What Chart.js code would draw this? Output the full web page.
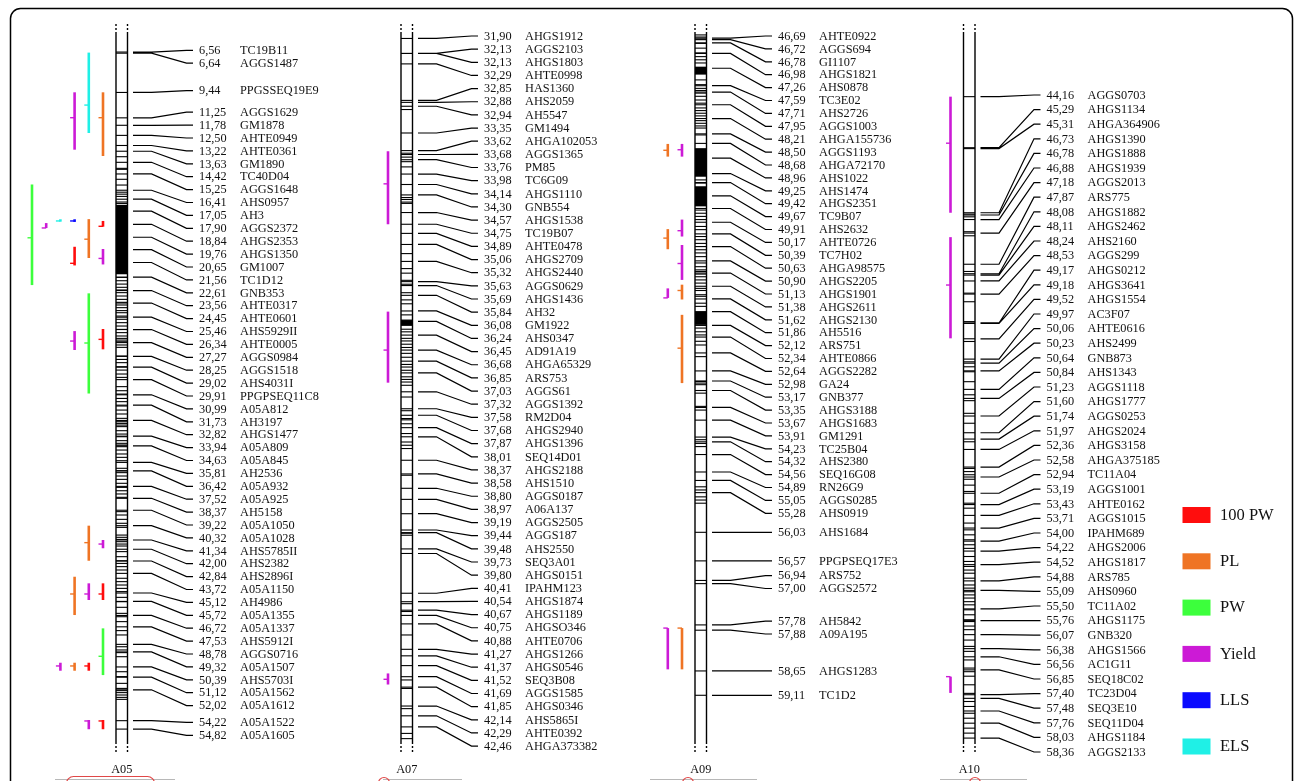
<!DOCTYPE html>
<html lang="en">
<head>
<meta charset="UTF-8">
<title>QTL map A05 A07 A09 A10</title>
<script src="https://cdn.jsdelivr.net/npm/chart.js"></script>
<style>
  body { margin: 0; background: #fff; }
  #wrap { width: 1295px; height: 781px; position: relative; }
</style>
</head>
<body>
<div id="wrap"><canvas id="mapChart"></canvas></div>
<script>
// linkage groups
const groups = ['A05', 'A07', 'A09', 'A10'];

// labelled marker positions (cM) and names, per group
const a05Pos = [6.56, 6.64, 9.44, 11.25, 11.78, 12.50, 13.22, 13.63, 14.42, 15.25, 16.41, 17.05, 17.90, 18.84, 19.76, 20.65, 21.56, 22.61, 23.56, 24.45, 25.46, 26.34, 27.27, 28.25, 29.02, 29.91, 30.99, 31.73, 32.82, 33.94, 34.63, 35.81, 36.42, 37.52, 38.37, 39.22, 40.32, 41.34, 42.00, 42.84, 43.72, 45.12, 45.72, 46.72, 47.53, 48.78, 49.32, 50.39, 51.12, 52.02, 54.22, 54.82];
const a05Names = ['TC19B11', 'AGGS1487', 'PPGSSEQ19E9', 'AGGS1629', 'GM1878', 'AHTE0949', 'AHTE0361', 'GM1890', 'TC40D04', 'AGGS1648', 'AHS0957', 'AH3', 'AGGS2372', 'AHGS2353', 'AHGS1350', 'GM1007', 'TC1D12', 'GNB353', 'AHTE0317', 'AHTE0601', 'AHS5929II', 'AHTE0005', 'AGGS0984', 'AGGS1518', 'AHS4031I', 'PPGPSEQ11C8', 'A05A812', 'AH3197', 'AHGS1477', 'A05A809', 'A05A845', 'AH2536', 'A05A932', 'A05A925', 'AH5158', 'A05A1050', 'A05A1028', 'AHS5785II', 'AHS2382', 'AHS2896I', 'A05A1150', 'AH4986', 'A05A1355', 'A05A1337', 'AHS5912I', 'AGGS0716', 'A05A1507', 'AHS5703I', 'A05A1562', 'A05A1612', 'A05A1522', 'A05A1605'];

const a07Pos = [31.90, 32.13, 32.13, 32.29, 32.85, 32.88, 32.94, 33.35, 33.62, 33.68, 33.76, 33.98, 34.14, 34.30, 34.57, 34.75, 34.89, 35.06, 35.32, 35.63, 35.69, 35.84, 36.08, 36.24, 36.45, 36.68, 36.85, 37.03, 37.32, 37.58, 37.68, 37.87, 38.01, 38.37, 38.58, 38.80, 38.97, 39.19, 39.44, 39.48, 39.73, 39.80, 40.41, 40.54, 40.67, 40.75, 40.88, 41.27, 41.37, 41.52, 41.69, 41.85, 42.14, 42.29, 42.46];
const a07Names = ['AHGS1912', 'AGGS2103', 'AHGS1803', 'AHTE0998', 'HAS1360', 'AHS2059', 'AH5547', 'GM1494', 'AHGA102053', 'AGGS1365', 'PM85', 'TC6G09', 'AHGS1110', 'GNB554', 'AHGS1538', 'TC19B07', 'AHTE0478', 'AHGS2709', 'AHGS2440', 'AGGS0629', 'AHGS1436', 'AH32', 'GM1922', 'AHS0347', 'AD91A19', 'AHGA65329', 'ARS753', 'AGGS61', 'AGGS1392', 'RM2D04', 'AHGS2940', 'AHGS1396', 'SEQ14D01', 'AHGS2188', 'AHS1510', 'AGGS0187', 'A06A137', 'AGGS2505', 'AGGS187', 'AHS2550', 'SEQ3A01', 'AHGS0151', 'IPAHM123', 'AHGS1874', 'AHGS1189', 'AHGSO346', 'AHTE0706', 'AHGS1266', 'AHGS0546', 'SEQ3B08', 'AGGS1585', 'AHGS0346', 'AHS5865I', 'AHTE0392', 'AHGA373382'];

const a09Pos = [46.69, 46.72, 46.78, 46.98, 47.26, 47.59, 47.71, 47.95, 48.21, 48.50, 48.68, 48.96, 49.25, 49.42, 49.67, 49.91, 50.17, 50.39, 50.63, 50.90, 51.13, 51.38, 51.62, 51.86, 52.12, 52.34, 52.64, 52.98, 53.17, 53.35, 53.67, 53.91, 54.23, 54.32, 54.56, 54.89, 55.05, 55.28, 56.03, 56.57, 56.94, 57.00, 57.78, 57.88, 58.65, 59.11];
const a09Names = ['AHTE0922', 'AGGS694', 'GI1107', 'AHGS1821', 'AHS0878', 'TC3E02', 'AHS2726', 'AGGS1003', 'AHGA155736', 'AGGS1193', 'AHGA72170', 'AHS1022', 'AHS1474', 'AHGS2351', 'TC9B07', 'AHS2632', 'AHTE0726', 'TC7H02', 'AHGA98575', 'AHGS2205', 'AHGS1901', 'AHGS2611', 'AHGS2130', 'AH5516', 'ARS751', 'AHTE0866', 'AGGS2282', 'GA24', 'GNB377', 'AHGS3188', 'AHGS1683', 'GM1291', 'TC25B04', 'AHS2380', 'SEQ16G08', 'RN26G9', 'AGGS0285', 'AHS0919', 'AHS1684', 'PPGPSEQ17E3', 'ARS752', 'AGGS2572', 'AH5842', 'A09A195', 'AHGS1283', 'TC1D2'];

const a10Pos = [44.16, 45.29, 45.31, 46.73, 46.78, 46.88, 47.18, 47.87, 48.08, 48.11, 48.24, 48.53, 49.17, 49.18, 49.52, 49.97, 50.06, 50.23, 50.64, 50.84, 51.23, 51.60, 51.74, 51.97, 52.36, 52.58, 52.94, 53.19, 53.43, 53.71, 54.00, 54.22, 54.52, 54.88, 55.09, 55.50, 55.76, 56.07, 56.38, 56.56, 56.85, 57.40, 57.48, 57.76, 58.03, 58.36];
const a10Names = ['AGGS0703', 'AHGS1134', 'AHGA364906', 'AHGS1390', 'AHGS1888', 'AHGS1939', 'AGGS2013', 'ARS775', 'AHGS1882', 'AHGS2462', 'AHS2160', 'AGGS299', 'AHGS0212', 'AHGS3641', 'AHGS1554', 'AC3F07', 'AHTE0616', 'AHS2499', 'GNB873', 'AHS1343', 'AGGS1118', 'AHGS1777', 'AGGS0253', 'AHGS2024', 'AHGS3158', 'AHGA375185', 'TC11A04', 'AGGS1001', 'AHTE0162', 'AGGS1015', 'IPAHM689', 'AHGS2006', 'AHGS1817', 'ARS785', 'AHS0960', 'TC11A02', 'AHGS1175', 'GNB320', 'AHGS1566', 'AC1G11', 'SEQ18C02', 'TC23D04', 'SEQ3E10', 'SEQ11D04', 'AHGS1184', 'AGGS2133'];

// unlabelled markers on the bars (cM)
const a05Extra = [14.02, 14.85, 14.92, 15.63, 16.04, 16.55, 16.69, 16.85, 17.25, 17.35,
  22.62, 22.86, 23.10, 23.33, 23.52, 23.71, 23.95, 24.19, 24.40, 24.59, 24.78, 24.99, 25.14, 25.38, 25.61, 25.85, 26.09, 26.33, 26.56, 26.80, 26.97, 27.09, 27.21, 27.44, 27.61,
  28.23, 28.47, 28.70, 28.99, 29.23, 29.51, 29.75, 30.41, 30.70, 30.94, 31.25, 31.48, 31.79, 32.08, 32.36, 32.67, 32.91, 33.03, 33.15, 33.26, 33.55, 33.79, 33.98,
  34.26, 34.45, 34.57, 34.69, 34.93, 35.21, 35.45, 35.69, 36.23, 36.40, 36.54, 36.78, 37.02, 37.30, 37.59, 37.83, 38.06, 38.30, 39.32, 39.56, 39.87, 40.15, 40.44,
  40.99, 41.15, 41.30, 41.46, 41.63, 41.77, 42.17, 42.53, 42.82, 43.01, 43.24, 43.48, 44.07, 44.31, 44.55, 44.79, 45.02, 45.43, 45.74, 46.14, 46.57, 46.81, 47.16,
  47.80, 48.11, 48.95, 49.18, 49.37, 49.66, 50.73, 51.08, 51.56, 51.92, 52.08, 52.22, 52.39, 52.56, 52.70];
const a07Extra = [32.99, 33.66, 33.72, 33.79, 33.87, 34.34, 34.37, 34.41, 34.43, 35.20, 35.43, 35.50,
  35.61, 35.67, 35.80, 35.91, 35.97, 36.14, 36.22, 36.25, 36.27, 36.30, 36.36, 36.40, 36.50, 36.54, 36.59, 36.64, 36.73, 36.79, 36.90, 36.94, 36.99, 37.09, 37.13, 37.17, 37.22, 37.40,
  37.61, 37.73, 37.75, 37.81, 37.96, 38.09, 38.14, 38.19, 38.60, 39.49, 39.52, 40.57, 40.69, 41.05, 41.74, 41.87, 42.18, 42.56, 42.64];
const a09Extra = [46.63, 46.67, 46.71, 46.79, 46.88, 46.97, 47.04, 47.10, 47.16, 47.48, 47.57, 47.64, 47.68, 47.73, 47.79, 47.86, 47.92, 48.01, 48.06, 48.11, 48.16, 48.25, 48.30, 48.35, 48.39, 48.52,
  49.37, 49.43, 49.94, 50.00, 50.06, 50.12, 50.25, 50.31, 50.44, 50.50, 50.57, 50.69, 50.75, 50.82, 50.94, 51.01, 51.07, 51.20,
  51.10, 51.15, 51.26, 51.32, 51.42, 51.46, 51.54, 51.57, 51.70, 51.76, 52.17, 52.24, 52.30, 52.42, 52.49, 52.71, 53.18, 53.21, 53.24, 53.40, 53.65, 53.72, 54.28, 54.35, 54.41, 55.17, 55.23, 55.36, 55.42, 55.48];
const a10Extra = [46.76, 46.82, 47.15, 47.24, 48.03, 48.51, 48.70, 49.14, 49.58, 50.03, 50.14, 50.25, 50.47, 50.76, 50.89, 51.17, 51.39, 51.80, 52.39, 52.46, 52.53, 52.63, 52.76, 52.90, 53.16, 53.27, 53.60,
  53.75, 53.86, 53.97, 54.08, 54.16, 54.34, 54.45, 54.56, 54.64, 54.71, 54.82, 54.97, 55.04, 55.12, 55.19, 55.26, 55.34, 55.41, 55.52, 55.63, 55.74, 55.78, 55.88, 55.96, 56.19, 56.33, 56.44, 56.63, 56.81, 56.89, 56.99, 57.18, 57.37, 57.55, 57.66, 57.81, 57.92, 58.14, 58.25];

// stretches of the bar packed solid with markers (cM from, to)
const a05Solid = [[17.45, 22.40]];
const a07Solid = [[36.22, 36.30]];
const a09Solid = [[47.23, 47.38], [48.77, 49.31], [49.49, 49.87], [51.86, 52.11]];
const a10Solid = [];

// traits (legend order)
const traits = ['100 PW', 'PL', 'PW', 'Yield', 'LLS', 'ELS'];
const traitColors = ['#ff0d0d', '#ef7424', '#3cff3c', '#cc1ad6', '#0a0aff', '#1ff0e6'];

// QTL intervals: group index, trait, lane (0 = next to bar), start, end, peak (cM)
const qtlGroup = [0, 0, 0, 0, 0, 0, 0, 0, 0, 0, 0, 0, 0, 0, 0, 0, 0, 0, 0, 0, 0, 0, 0, 0, 0, 1, 1, 1, 2, 2, 2, 2, 2, 2, 2, 2, 2, 2, 3, 3, 3];
const qtlTrait = ['ELS', 'Yield', 'PL', 'PW', 'Yield', 'ELS', 'LLS', 'PL', '100 PW', '100 PW', 'Yield', 'PW', 'Yield', '100 PW', 'PL', 'Yield', 'PL', 'Yield', '100 PW', 'PW', 'Yield', 'PL', '100 PW', 'Yield', '100 PW',
  'Yield', 'Yield', 'Yield',
  'PL', 'Yield', 'Yield', 'PL', 'Yield', 'Yield', 'PL', 'PL', 'Yield', 'PL',
  'Yield', 'Yield', 'Yield'];
const qtlLane = [1, 2, 0, 5, 4, 3, 2, 1, 0, 2, 0, 1, 2, 0, 1, 0, 2, 1, 0, 0, 3, 2, 1, 1, 0, 0, 0, 0, 1, 0, 0, 1, 0, 1, 0, 0, 1, 0, 0, 0, 0];
const qtlStart = [6.60, 9.43, 9.43, 16.00, 18.75, 18.48, 18.48, 18.47, 18.60, 20.44, 20.60, 23.76, 26.45, 26.30, 40.32, 41.34, 43.96, 44.43, 44.43, 47.64, 50.09, 50.09, 50.09, 54.17, 54.17,
  33.63, 36.09, 41.64,
  48.69, 48.69, 50.12, 50.30, 50.60, 51.42, 51.35, 51.92, 57.84, 57.84,
  44.16, 47.27, 57.00];
const qtlEnd = [12.33, 13.52, 13.97, 23.17, 19.10, 18.65, 18.67, 21.24, 19.01, 21.77, 21.70, 30.90, 27.80, 27.75, 42.82, 41.93, 46.69, 45.62, 45.62, 50.97, 50.66, 50.66, 50.66, 54.83, 54.83,
  34.75, 37.18, 41.81,
  48.93, 48.93, 50.44, 50.68, 51.26, 51.60, 51.63, 53.21, 58.62, 58.62,
  46.73, 49.51, 57.36];
const qtlPeak = [10.34, 11.24, 11.24, 19.80, 19.10, 18.60, 18.60, 19.90, 18.98, 21.62, 21.27, 27.30, 27.16, 27.04, 41.53, 41.63, 45.19, 45.19, 45.19, 49.63, 50.32, 50.32, 50.32, 54.24, 54.24,
  34.13, 36.68, 41.73,
  48.81, 48.80, 50.33, 50.47, 50.95, 51.60, 51.46, 52.55, 57.84, 57.84,
  45.19, 48.33, 57.00];

// axis range (cM) of each group over the full picture height
const axisMin = [2.85, 31.31, 45.97, 42.02];
const axisMax = [58.52, 43.29, 60.73, 59.31];

const markerPos = [a05Pos, a07Pos, a09Pos, a10Pos];
const markerNames = [a05Names, a07Names, a09Names, a10Names];
const extraPos = [a05Extra, a07Extra, a09Extra, a10Extra];
const solidRuns = [a05Solid, a07Solid, a09Solid, a10Solid];

// layout (pixels)
const lay = {
  barLeft: [116, 401, 695, 963.5],
  barW: 11.5,
  barTop: 34, barBottom: 742,
  gap: [12.9, 13.15, 12.9, 14.6],
  pushDown: [0.7, 0, 0, 0],   // share of the top-down push in the label placement
  labelMin: 36, labelMax: 752,
  laneStep: 14.2
};
const serif = '"Liberation Serif", "Times New Roman", serif';

// labels kept apart, each cluster centred on its markers
function spreadLabels(ideal, gap, lo, hi) {
  const cl = [];
  const fix = c => { c.top = Math.max(lo, Math.min(hi - (c.n - 1) * gap, c.s / c.n)); };
  ideal.forEach((y, i) => {
    const c = { i0: i, n: 1, s: y };
    fix(c);
    cl.push(c);
    while (cl.length > 1) {
      const b = cl[cl.length - 1], a = cl[cl.length - 2];
      if (a.top + a.n * gap <= b.top) break;
      a.s += b.s - b.n * a.n * gap;
      a.n += b.n;
      fix(a);
      cl.pop();
    }
  });
  const out = [];
  cl.forEach(c => { for (let k = 0; k < c.n; k++) out.push(c.top + k * gap); });
  return out;
}

// labels only pushed downwards
function pushLabels(ideal, gap, lo, hi) {
  const out = [];
  ideal.forEach((y, i) => out.push(i ? Math.max(y, out[i - 1] + gap) : Math.max(y, lo)));
  for (let i = out.length - 1; i >= 0; i--) {
    const lim = i === out.length - 1 ? hi : out[i + 1] - gap;
    if (out[i] > lim) out[i] = lim;
  }
  return out;
}

const mapPlugin = {
  id: 'mapDraw',
  beforeDatasetsDraw(chart) {
    const c = chart.ctx;
    c.save();
    groups.forEach((g, gi) => {
      const ys = chart.scales['y' + g];
      const xl = lay.barLeft[gi], xr = xl + lay.barW;
      c.fillStyle = '#000';
      solidRuns[gi].forEach(r => {
        const y0 = ys.getPixelForValue(r[0]), y1 = ys.getPixelForValue(r[1]);
        c.fillRect(xl, y0, lay.barW, y1 - y0);
      });
      c.strokeStyle = '#000';
      c.lineWidth = 1.4;
      c.setLineDash([]);
      c.beginPath();
      c.moveTo(xl, lay.barTop); c.lineTo(xl, lay.barBottom);
      c.moveTo(xr, lay.barTop); c.lineTo(xr, lay.barBottom);
      c.stroke();
      c.setLineDash([2, 2]);
      c.beginPath();
      c.moveTo(xl, lay.barTop - 10); c.lineTo(xl, lay.barTop);
      c.moveTo(xr, lay.barTop - 10); c.lineTo(xr, lay.barTop);
      c.moveTo(xl, lay.barBottom); c.lineTo(xl, lay.barBottom + 10);
      c.moveTo(xr, lay.barBottom); c.lineTo(xr, lay.barBottom + 10);
      c.stroke();
      c.setLineDash([]);
    });
    // QTL intervals
    qtlGroup.forEach((gi, q) => {
      const ys = chart.scales['y' + groups[gi]];
      const x = lay.barLeft[gi] - 13 - lay.laneStep * qtlLane[q];
      const col = traitColors[traits.indexOf(qtlTrait[q])];
      const y0 = ys.getPixelForValue(qtlStart[q]);
      const y1 = ys.getPixelForValue(qtlEnd[q]);
      const yp = ys.getPixelForValue(qtlPeak[q]);
      c.strokeStyle = col;
      c.lineWidth = 2.6;
      c.beginPath(); c.moveTo(x, y0); c.lineTo(x, y1); c.stroke();
      c.lineWidth = 1.4;
      c.beginPath(); c.moveTo(x - 4.5, yp); c.lineTo(x, yp); c.stroke();
    });
    c.restore();
  },
  afterDatasetsDraw(chart) {
    const c = chart.ctx;
    c.save();
    groups.forEach((g, gi) => {
      const ys = chart.scales['y' + g];
      const xl = lay.barLeft[gi];
      const ideal = markerPos[gi].map(p => ys.getPixelForValue(p));
      const mid = spreadLabels(ideal, lay.gap[gi], lay.labelMin, lay.labelMax);
      const down = pushLabels(ideal, lay.gap[gi], lay.labelMin, lay.labelMax);
      const w = lay.pushDown[gi];
      const labY = mid.map((y, i) => w * down[i] + (1 - w) * y);
      c.strokeStyle = '#000';
      c.lineWidth = 1.2;
      c.beginPath();
      ideal.forEach((y, i) => {
        c.moveTo(xl + lay.barW + 5.5, y);
        c.lineTo(xl + 35.5, y);
        c.lineTo(xl + 70.5, labY[i]);
        c.lineTo(xl + 77, labY[i]);
      });
      c.stroke();
      c.fillStyle = '#111';
      c.font = '12.3px ' + serif;
      c.textBaseline = 'middle';
      c.textAlign = 'left';
      markerPos[gi].forEach((p, i) => {
        c.fillText(p.toFixed(2).replace('.', ','), xl + 83, labY[i] + 0.5);
        c.fillText(markerNames[gi][i], xl + 124, labY[i] + 0.5);
      });
      c.textAlign = 'center';
      c.fillText(g, xl + lay.barW / 2, 770);
    });
    // cut-off shapes along the bottom edge
    c.lineWidth = 1.2;
    c.strokeStyle = '#b8b8b8';
    c.beginPath();
    c.moveTo(55, 779.5); c.lineTo(175, 779.5);
    c.moveTo(383, 779.5); c.lineTo(462, 779.5);
    c.moveTo(650, 779.5); c.lineTo(757, 779.5);
    c.moveTo(940, 779.5); c.lineTo(1027, 779.5);
    c.stroke();
    c.strokeStyle = '#e04848';
    c.beginPath(); c.roundRect(66.5, 776.5, 88, 20, 7); c.stroke();
    [384, 688, 975].forEach(x => { c.beginPath(); c.arc(x, 783, 5.5, 0, Math.PI * 2); c.stroke(); });
    // legend
    c.textAlign = 'left';
    c.font = '16.5px ' + serif;
    traits.forEach((t, i) => {
      const y = 507 + i * 46.3;
      c.fillStyle = traitColors[i];
      c.fillRect(1182.5, y, 28, 16);
      c.fillStyle = '#111';
      c.fillText(t, 1220, y + 8.5);
    });
    // frame
    c.strokeStyle = '#000';
    c.lineWidth = 1.5;
    c.beginPath();
    c.roundRect(10.5, 8.5, 1282, 820, 10);
    c.stroke();
    c.restore();
  }
};

const tickSets = groups.map((g, gi) => ({
  label: g,
  data: markerPos[gi].concat(extraPos[gi]).map(p => ({ x: lay.barLeft[gi] + lay.barW / 2, y: p })),
  yAxisID: 'y' + g,
  showLine: false,
  pointStyle: 'line',
  pointRadius: lay.barW / 2,
  pointBorderWidth: 1.1,
  pointBorderColor: '#000',
  pointBackgroundColor: '#000'
}));

const yScales = {};
groups.forEach((g, gi) => {
  yScales['y' + g] = { type: 'linear', reverse: true, min: axisMin[gi], max: axisMax[gi], display: false };
});

const mapChart = new Chart(document.getElementById('mapChart'), {
  type: 'scatter',
  data: { datasets: tickSets },
  options: {
    responsive: true,
    maintainAspectRatio: false,
    animation: false,
    events: [],
    layout: { padding: 0, autoPadding: false },
    plugins: { legend: { display: false }, tooltip: { enabled: false } },
    scales: Object.assign({ x: { type: 'linear', min: 0, max: 1295, display: false } }, yScales)
  },
  plugins: [mapPlugin]
});
</script>
</body>
</html>
